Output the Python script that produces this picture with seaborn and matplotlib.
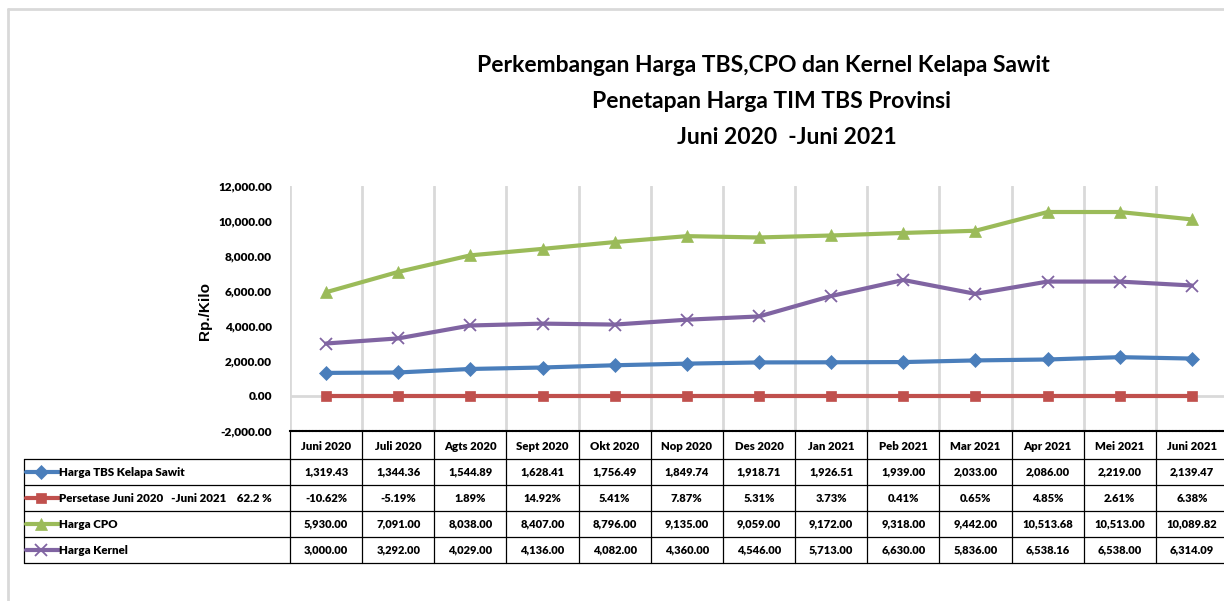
import numpy as np
import matplotlib
matplotlib.use("Agg")
import matplotlib.pyplot as plt
from matplotlib.lines import Line2D
import seaborn as sns

months = ["Juni 2020", "Juli 2020", "Agts 2020", "Sept 2020", "Okt 2020", "Nop 2020",
          "Des 2020", "Jan 2021", "Peb 2021", "Mar 2021", "Apr 2021", "Mei 2021", "Juni 2021"]
harga_tbs = [1319.43, 1344.36, 1544.89, 1628.41, 1756.49, 1849.74, 1918.71,
             1926.51, 1939.00, 2033.00, 2086.00, 2219.00, 2139.47]
persentase = [-10.62, -5.19, 1.89, 14.92, 5.41, 7.87, 5.31, 3.73, 0.41, 0.65, 4.85, 2.61, 6.38]
harga_cpo = [5930.00, 7091.00, 8038.00, 8407.00, 8796.00, 9135.00, 9059.00,
             9172.00, 9318.00, 9442.00, 10513.68, 10513.00, 10089.82]
harga_kernel = [3000.00, 3292.00, 4029.00, 4136.00, 4082.00, 4360.00, 4546.00,
                5713.00, 6630.00, 5836.00, 6538.16, 6538.00, 6314.09]
yticks = [-2000, 0, 2000, 4000, 6000, 8000, 10000, 12000]

series = [
    ("Harga TBS Kelapa Sawit", harga_tbs, [f"{v:,.2f}" for v in harga_tbs], "#4A7EBB", "D", 7),
    ("Persetase Juni 2020   -Juni 2021    62.2 %", [p / 100 for p in persentase],
     [f"{p:.2f}%" for p in persentase], "#C0504D", "s", 7.5),
    ("Harga CPO", harga_cpo, [f"{v:,.2f}" for v in harga_cpo], "#9BBB59", "^", 8.5),
    ("Harga Kernel", harga_kernel, [f"{v:,.2f}" for v in harga_kernel], "#8064A2", "x", 9),
]

sns.set_theme(style="white")
font = ["Lato", "DejaVu Sans"]
plt.rcParams["font.family"] = font
plt.rcParams["text.color"] = "black"
plt.rcParams["axes.labelcolor"] = "black"
plt.rcParams["ytick.color"] = "black"

W, H = 1224, 601
fig = plt.figure(figsize=(W / 100, H / 100), dpi=100)

def fx(px):
    return px / W

def fy(py):
    return 1 - py / H

# plot area (pixel coordinates of the reference)
left, right, top, bottom = 290, 1228, 186, 431
ax = fig.add_axes([fx(left), fy(bottom), fx(right - left), fy(top) - fy(bottom)])
x = np.arange(len(months))
for name, vals, _, color, marker, ms in series:
    sns.lineplot(x=x, y=vals, ax=ax, color=color, linewidth=3, marker=marker,
                 markersize=ms, markeredgecolor=color,
                 markeredgewidth=1.3 if marker == "x" else 0.5, legend=False)

ax.set_xlim(-0.5, len(months) - 0.5)
ax.set_ylim(-2000, 12000)
ax.set_yticks(yticks)
ax.set_yticklabels([f"{v:,.2f}" for v in yticks], fontsize=8.6, fontweight="heavy")
ax.tick_params(axis="y", length=0, pad=13)
ax.set_xticks([])
ax.set_xticks(np.arange(len(months) + 1) - 0.5, minor=True)
ax.tick_params(axis="x", which="minor", length=0)
ax.grid(axis="x", which="minor", color="#D9D9D9", linewidth=2)
ax.axhline(0, color="#D9D9D9", linewidth=2, zorder=0)
for s in ["left", "right", "top"]:
    ax.spines[s].set_visible(False)
ax.spines["bottom"].set_color("black")
ax.spines["bottom"].set_linewidth(1.5)
ax.spines["bottom"].set_linestyle((0, (1, 0.6)))
ax.set_ylabel("Rp./Kilo", fontsize=11, fontweight="bold", family="Liberation Sans")
ax.yaxis.set_label_coords((212 - left) / (right - left), 0.49)
ax.set_xlabel("")

# title
titles = ["Perkembangan Harga TBS,CPO dan Kernel Kelapa Sawit",
          "Penetapan Harga TIM TBS Provinsi",
          "Juni 2020  -Juni 2021"]
for t, py, px in zip(titles, [65, 101, 138], [763, 772, 787]):
    fig.text(fx(px), fy(py), t, ha="center", va="center", fontsize=16.5,
             fontweight="bold")

# data table below the plot
tab = fig.add_axes([0, 0, 1, 1])
tab.set_xlim(0, W)
tab.set_ylim(H, 0)
tab.axis("off")
colw = (right - left) / len(months)
edges = [left + i * colw for i in range(len(months) + 1)]
rows = [431, 459, 485, 511, 537, 563]
tleft = 24
tcol = "black"
for e in edges:
    tab.plot([e, e], [rows[0], rows[-1]], color=tcol, lw=0.9)
tab.plot([tleft, tleft], [rows[1], rows[-1]], color=tcol, lw=0.9)
for r in rows[1:]:
    tab.plot([tleft, W], [r, r], color=tcol, lw=0.9)
for i, m in enumerate(months):
    tab.text((edges[i] + edges[i + 1]) / 2, (rows[0] + rows[1]) / 2 + 1, m,
             ha="center", va="center", fontsize=8.2, fontweight="heavy")
for j, (name, vals, labels, color, marker, ms) in enumerate(series):
    yc = (rows[j + 1] + rows[j + 2]) / 2
    tab.add_line(Line2D([26, 59], [yc, yc], color=color, lw=3))
    tab.add_line(Line2D([41], [yc], color=color, marker=marker, markersize=ms,
                        markeredgecolor=color, markeredgewidth=1.3 if marker == "x" else 0.5))
    tab.text(59, yc, name, ha="left", va="center", fontsize=8.3, fontweight="heavy")
    for i, lab in enumerate(labels):
        tab.text((edges[i] + edges[i + 1]) / 2, yc, lab, ha="center", va="center",
                 fontsize=8, fontweight="heavy")

# light outer frame
tab.plot([8, 8], [9, H], color="#D9D9D9", lw=2)
tab.plot([8, W], [9, 9], color="#D9D9D9", lw=2)

fig.savefig("out.png", dpi=100)
